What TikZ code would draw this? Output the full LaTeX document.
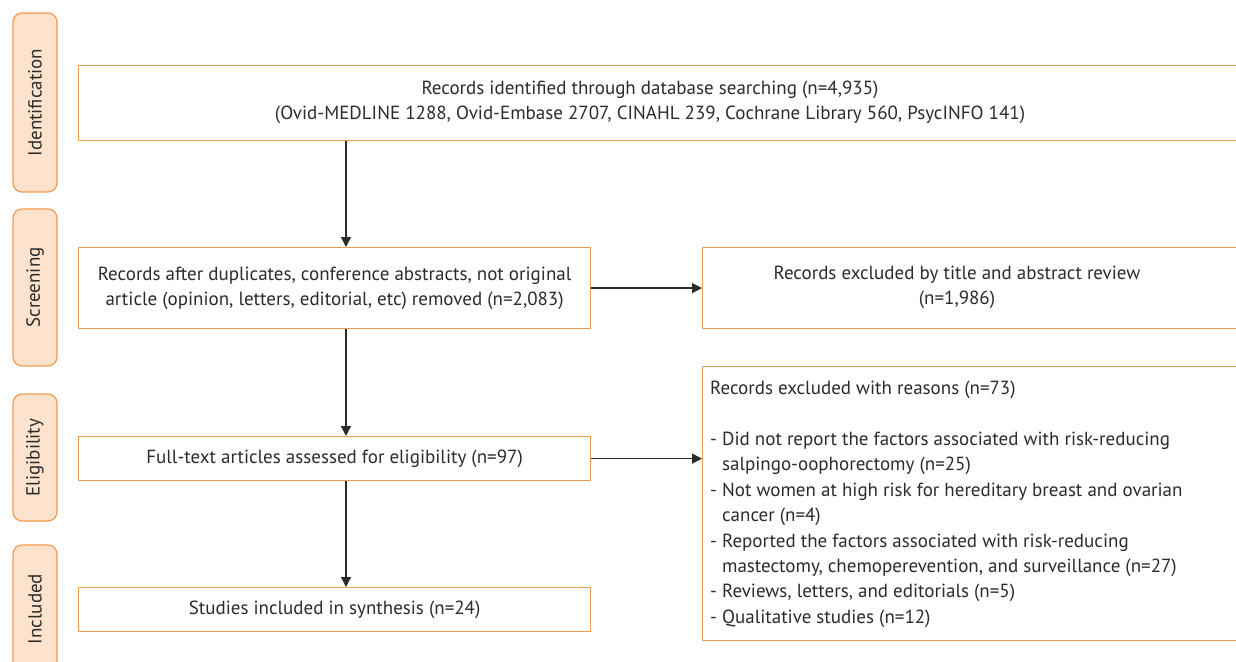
\documentclass[tikz,border=0pt]{standalone}
\usepackage{fontspec}
\setmainfont{PT Sans}
\usetikzlibrary{arrows.meta}
\definecolor{prismaorange}{HTML}{F39A4E}
\definecolor{prismapeach}{HTML}{FDE3CD}
\definecolor{prismatext}{HTML}{2B2B2B}
\tikzset{
  stage/.style={draw=prismaorange, fill=prismapeach, line width=1.2pt,
    rounded corners=9pt, minimum height=44pt, rotate=90, inner sep=0pt,
    text=prismatext, font=\fontsize{19}{22}\selectfont},
  panel/.style={draw=prismaorange, line width=1.2pt, inner sep=0pt,
    text=prismatext, align=center, font=\fontsize{19}{25.3}\selectfont},
  txt/.style={text=prismatext, inner sep=0pt, align=center,
    font=\fontsize{19}{25.4}\selectfont},
  flow/.style={draw=prismatext, line width=1.3pt,
    -{Triangle[length=10pt,width=10pt]}}
}
\begin{document}
\begin{tikzpicture}[x=1pt,y=-1pt]
    \useasboundingbox (0,0) rectangle (1236,661);
    % Stage labels on the left
    \node[stage, minimum width=179pt] (sident) at (35,102.5) {Identification};
    \node[stage, minimum width=157pt] (sscreen) at (35,287.5) {Screening};
    \node[stage, minimum width=127pt] (selig) at (35,457.5) {Eligibility};
    \node[stage, minimum width=128pt] (sincl) at (35,609) {Included};
    % Main column
    \node[panel, anchor=north west, minimum width=1200pt, minimum height=75pt] (ident) at (78,65) {};
    \node[txt] (identtxt) at (650,102.5) {Records identified through database searching (n=4,935)\\
      (Ovid-MEDLINE 1288, Ovid-Embase 2707, CINAHL 239, Cochrane Library 560, PsycINFO 141)};
    \node[panel, anchor=north west, minimum width=512pt, minimum height=81pt] (screen) at (78,247)
      {Records after duplicates, conference abstracts, not original\\
       article (opinion, letters, editorial, etc) removed (n=2,083)};
    \node[panel, anchor=north west, minimum width=512pt, minimum height=44pt] (elig) at (78,436)
      {Full-text articles assessed for eligibility (n=97)};
    \node[panel, anchor=north west, minimum width=512pt, minimum height=44pt] (incl) at (78,587)
      {Studies included in synthesis (n=24)};
    % Exclusion column
    \node[panel, anchor=north west, minimum width=560pt, minimum height=81pt] (excl) at (702,247) {};
    \node[txt] (excltxt) at (957,287.5) {Records excluded by title and abstract review\\(n=1,986)};
    \node[panel, anchor=north west, minimum width=560pt, minimum height=274pt] (reason) at (702,366) {};
    \node[txt, anchor=north west, align=left] (reasontxt) at (710,381)
      {Records excluded with reasons (n=73)\\[25.4pt]
       - Did not report the factors associated with risk-reducing\\
       \phantom{- }salpingo-oophorectomy (n=25)\\
       - Not women at high risk for hereditary breast and ovarian\\
       \phantom{- }cancer (n=4)\\
       - Reported the factors associated with risk-reducing\\
       \phantom{- }mastectomy, chemoperevention, and surveillance (n=27)\\
       - Reviews, letters, and editorials (n=5)\\
       - Qualitative studies (n=12)};
    % Connectors
    \coordinate (spine) at (346,0);
    \draw[flow] (ident.south -| spine) -- (screen.north -| spine);
    \draw[flow] (screen.south -| spine) -- (elig.north -| spine);
    \draw[flow] (elig.south -| spine) -- (incl.north -| spine);
    \draw[flow] (screen.east) -- (excl.west);
    \draw[flow] (elig.east) -- (elig.east -| reason.west);
\end{tikzpicture}
\end{document}
